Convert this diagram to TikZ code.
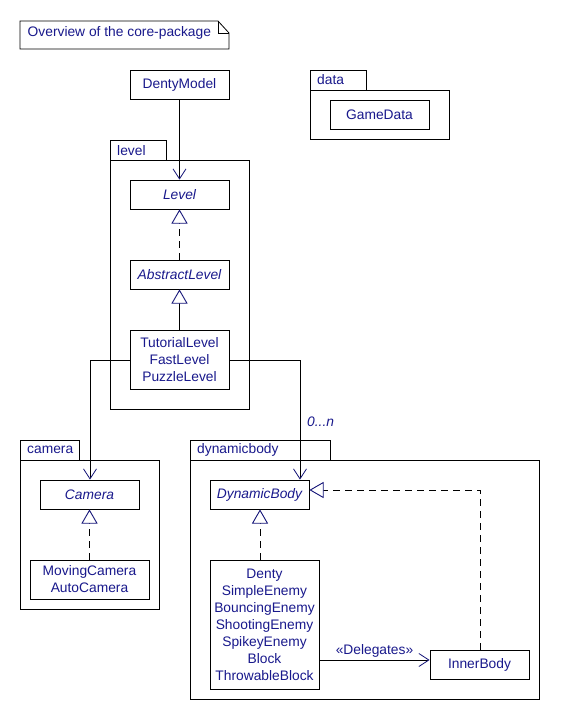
\documentclass[tikz,border=0pt]{standalone}
\usepackage{fontspec}
\setmainfont{Liberation Sans}
\usetikzlibrary{arrows.meta}
\definecolor{umltext}{RGB}{25,25,140}
\definecolor{umlhead}{RGB}{20,20,120}
\tikzset{
  x=1pt, y=-1pt,
  every node/.style={font=\fontsize{13.8}{17}\selectfont, text=umltext},
  cls/.style={draw=black, line width=0.8pt, fill=white, inner sep=0pt, align=center},
  pkg/.style={draw=black, line width=0.8pt},
  tablabel/.style={anchor=west, inner sep=0pt},
  barbtip/.tip={Straight Barb[length=10pt, width=13pt, color=umlhead, line width=0.8pt]},
  gentip/.tip={Triangle[open, length=11pt, width=12.5pt, color=umlhead, fill=white, line width=0.9pt, scale=1.3]},
  assoc/.style={line width=0.8pt, -barbtip},
  realize/.style={line width=0.8pt, dash pattern=on 7pt off 5pt, -gentip},
  inherit/.style={line width=0.8pt, -gentip},
}
\begin{document}
\begin{tikzpicture}
\useasboundingbox (0,0) rectangle (560,720);
\fill[white] (0,0) rectangle (560,720);

% note with folded corner
\draw[line width=0.8pt] (20,21) -- (218,21) -- (229,33) -- (229,49) -- (20,49) -- cycle;
\draw[line width=0.8pt] (218,21) -- (218,33) -- (229,33);
\node[tablabel] (note) at (27.5,33) {Overview of the core-package};

% package: level
\draw[pkg] (110.7,140.7) rectangle (166,160.7);
\draw[pkg] (110.7,160.7) rectangle (249,409);
\node[tablabel] (levelpkg) at (117,151) {level};

% package: data
\draw[pkg] (310,70) rectangle (366.7,90);
\draw[pkg] (310,90) rectangle (449,139);
\node[tablabel] (datapkg) at (317,80) {data};

% package: camera
\draw[pkg] (20.7,440) rectangle (79,460);
\draw[pkg] (20.7,460) rectangle (159,609);
\node[tablabel] (camerapkg) at (27,450) {camera};

% package: dynamicbody
\draw[pkg] (190.7,440) rectangle (330.7,460);
\draw[pkg] (190.7,460) rectangle (539,699);
\node[tablabel] (dynpkg) at (197,450) {dynamicbody};

% classes
\node[cls, minimum width=99pt, minimum height=29pt] (dentymodel) at (179.5,84.5) {DentyModel};
\node[cls, minimum width=99pt, minimum height=29pt] (gamedata) at (379.5,114.5) {GameData};
\node[cls, minimum width=99pt, minimum height=29pt] (level) at (179.5,194.5) {\itshape Level};
\node[cls, minimum width=99pt, minimum height=29pt] (abstractlevel) at (179.5,274.5) {\itshape AbstractLevel};
\node[cls, minimum width=99pt, minimum height=59pt] (levels) at (179.5,359.5) {TutorialLevel\\FastLevel\\PuzzleLevel};
\node[cls, minimum width=99pt, minimum height=29pt] (camera) at (89.5,494.5) {\itshape Camera};
\node[cls, minimum width=119pt, minimum height=39pt] (cameras) at (89.5,579.5) {MovingCamera\\AutoCamera};
\node[cls, minimum width=99pt, minimum height=29pt] (dynbody) at (259.5,494.5) {\itshape DynamicBody};
\node[cls, minimum width=109pt, minimum height=129pt] (bodies) at (264.5,624.5) {Denty\\SimpleEnemy\\BouncingEnemy\\ShootingEnemy\\SpikeyEnemy\\Block\\ThrowableBlock};
\node[cls, minimum width=99pt, minimum height=29pt] (innerbody) at (479.5,664.5) {InnerBody};

% corner points of the routed connectors
\coordinate (camcorner) at (90,360);
\coordinate (dyncorner) at (300,360);
\coordinate (innercorner) at (480,490);

% multiplicity label
\node[anchor=west, inner sep=0pt, font=\fontsize{13.8}{17}\selectfont\itshape] (mult) at (307,422) {0...n};

% connectors
\draw[assoc] (dentymodel.south) -- (level.north);
\draw[realize] (abstractlevel.north) -- (level.south);
\draw[inherit] (levels.north) -- (abstractlevel.south);
\draw[assoc] (levels.west |- camcorner) -- (camcorner) -- (camcorner |- camera.north);
\draw[assoc] (levels.east |- dyncorner) -- (dyncorner) -- (dyncorner |- dynbody.north);
\draw[realize] (cameras.north) -- (camera.south);
\draw[realize] ([xshift=-4.5pt]bodies.north) -- ([xshift=0.5pt]dynbody.south);
\draw[realize] (innerbody.north -| innercorner) -- (innercorner) -- (dynbody.east |- innercorner);
\draw[assoc] (bodies.east |- 0,660) -- (innerbody.west |- 0,660)
  node[midway, above, inner sep=0pt, yshift=2pt] (deleg) {«Delegates»};
\end{tikzpicture}
\end{document}
